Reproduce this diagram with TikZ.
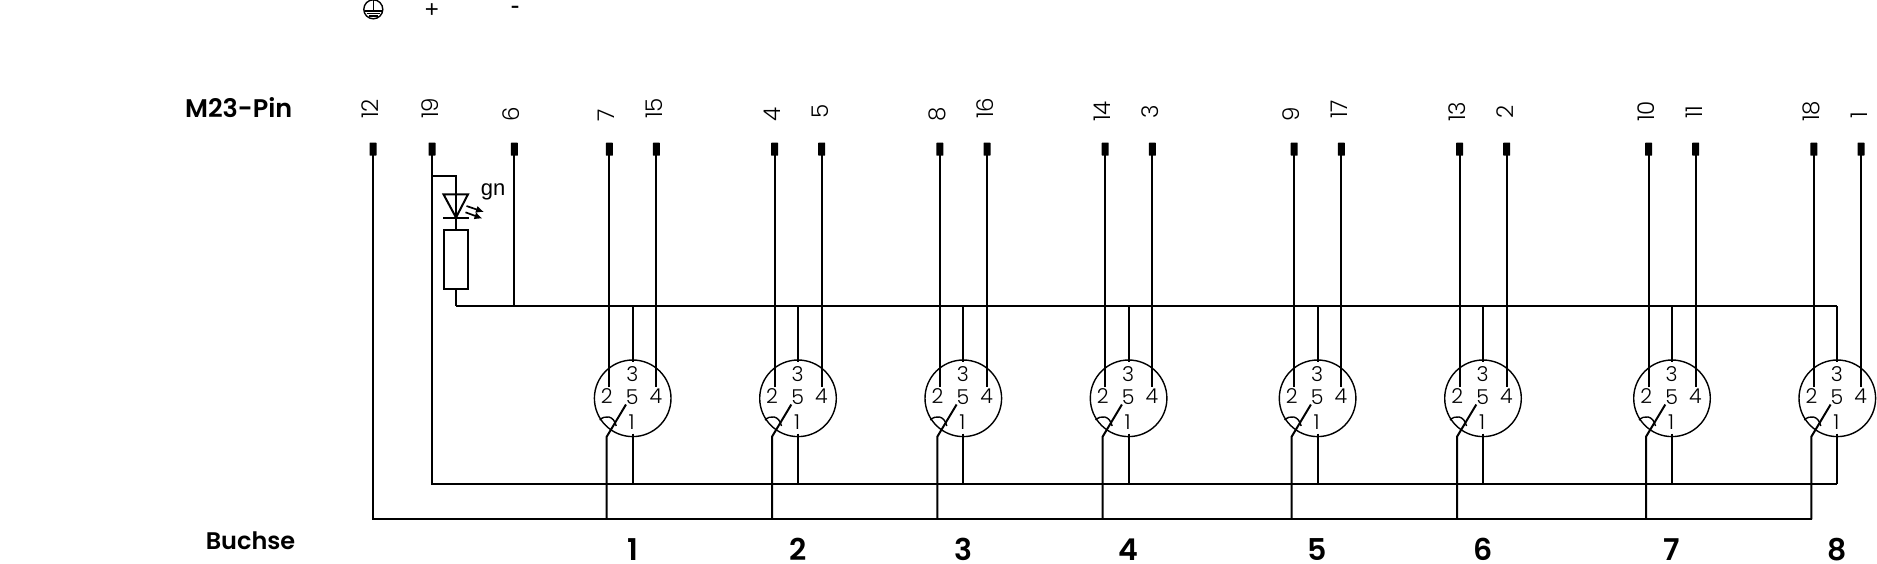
\documentclass[tikz,border=0pt]{standalone}
\usepackage{fontspec}
\setmainfont{Poppins}
\newfontfamily\lightf{Poppins Light}
\newfontfamily\medf{Poppins SemiBold}
\newfontfamily\helv{Liberation Sans}
\usetikzlibrary{arrows.meta}
\tikzset{
  wire/.style={line width=2pt,line join=miter},
  thinw/.style={line width=1.4pt},
  pinbox/.style={draw=none,fill=black,rounded corners=0.5pt,minimum width=7pt,minimum height=13pt,inner sep=0pt,outer sep=0pt},
  pinlabel/.style={font=\lightf\fontsize{23}{23}\selectfont,rotate=90,anchor=west,inner sep=0pt},
  conlabel/.style={font=\lightf\fontsize{20.5}{20}\selectfont,inner sep=0pt},
  socket/.style={circle,draw,thinw,minimum size=76.6pt,inner sep=0pt,outer sep=0pt},
  numlabel/.style={font=\medf\fontsize{30}{30}\selectfont,inner sep=0pt,anchor=base},
  headlabel/.style={font=\medf\fontsize{25.5}{26}\selectfont,inner sep=0pt},
  helvlabel/.style={font=\helv\fontsize{22}{22}\selectfont,inner sep=0pt},
  ledray/.style={line width=1.7pt,-{Latex[length=8pt,width=7.5pt]}},
}
\begin{document}
\begin{tikzpicture}[x=1pt,y=-1pt]
\useasboundingbox (0,0) rectangle (1877,563);
% single pins
\foreach \nm/\x/\lx/\ly in {12/373/370/119,19/432/430/119,6/514.3/511/122}{
  \node[pinbox] (p\nm) at (\x,149.2) {};
  \node[pinlabel] (t\nm) at (\lx,\ly) {\nm};
}
% buses
\coordinate (busAstart) at (456,306.3);
\coordinate (busAend) at (1837.3,306.3);
\coordinate (busBstart) at (432,484);
\coordinate (busBend) at (1837.3,484);
\coordinate (busCstart) at (373,519.3);
\coordinate (busCend) at (1811.7,519.3);
\draw[wire] (p12.center) -- (busCstart) -- (busCend);
\draw[wire] (p19.center) -- (busBstart) -- (busBend);
\draw[wire] (p6.center) -- (514.3,306.3);
\draw[wire] (busAstart) -- (busAend);
% LED branch
\coordinate (ledtap) at (432,176);
\coordinate (ledtop) at (456,176);
\node[draw,wire,minimum width=24pt,minimum height=59.5pt,inner sep=0pt,outer sep=0pt] (res) at (456,259.5) {};
\coordinate (ledk) at (456,218);
\draw[wire] (ledtap) -- (ledtop) -- (ledk) -- (res.north);
\draw[wire] (res.south) -- (busAstart);
\draw[wire] (443.5,194.3) -- (468,194.3) -- (456,217.5) -- cycle;
\draw[wire] (443,218) -- (469,218);
\draw[ledray] (466.5,206) -- (484,212);
\draw[ledray] (465.5,212.3) -- (482.5,218.6);
\node[helvlabel,anchor=base] (gn) at (493,195) {gn};
% sockets
\foreach \n/\c/\pa/\pb in {1/632.7/7/15,2/798/4/5,3/963.3/8/16,4/1128.6/14/3,5/1317.6/9/17,6/1483/13/2,7/1672/10/11,8/1837.3/18/1}{
  \node[socket] (s\n) at (\c,398.3) {};
  \node[conlabel] (s\n l2) at (\c-25.9,396) {2};
  \node[conlabel] (s\n l3) at (\c-0.4,374) {3};
  \node[conlabel] (s\n l4) at (\c+23.3,396) {4};
  \node[conlabel] (s\n l5) at (\c-0.4,397) {5};
  \node[conlabel] (s\n l1) at (\c-1,421.7) {1};
  \node[numlabel] (n\n) at (\c,560.5) {\n};
  \node[pinbox] (p\pa) at (\c-23.4,149.2) {};
  \node[pinbox] (p\pb) at (\c+23.7,149.2) {};
  \node[pinlabel] (t\pa) at (\c-26,122) {\pa};
  \node[pinlabel] (t\pb) at (\c+22,119) {\pb};
  \coordinate (e2) at (\c-23.4,386.7);
  \coordinate (e4) at (\c+23.7,386.7);
  \draw[wire] (p\pa.center) -- (e2);
  \draw[wire] (p\pb.center) -- (e4);
  \draw[wire] (\c,306.3) -- (\c,362);
  \draw[wire] (\c,433.5) -- (\c,484);
  \draw[wire] (\c-6.7,404.5) -- (\c-26,436.7) -- (\c-26,519.3);
  \draw[thinw] (\c-33,420) .. controls (\c-28,415) and (\c-19,415) .. (\c-16.5,426);
}
\node[headlabel,anchor=base east] (m23) at (292.5,117) {M23-Pin};
\node[headlabel,anchor=base east,font=\medf\fontsize{24}{26}\selectfont] (buchse) at (295.5,549.5) {Buchse};
% top row
\node[circle,draw,thinw,minimum size=19pt,inner sep=0pt] (pe) at (373.3,9.3) {};
\draw[thinw] (pe.north) -- (373.3,11);
\draw[thinw] (364.5,11) -- (382,11);
\draw[thinw] (366.5,13.5) -- (380,13.5);
\draw[thinw] (369,16) -- (377.5,16);
\node[helvlabel,font=\helv\fontsize{24}{24}\selectfont] (plus) at (432,10.5) {+};
\node[helvlabel,font=\helv\fontsize{27}{27}\selectfont] (minus) at (515,10.5) {-};
\end{tikzpicture}
\end{document}
